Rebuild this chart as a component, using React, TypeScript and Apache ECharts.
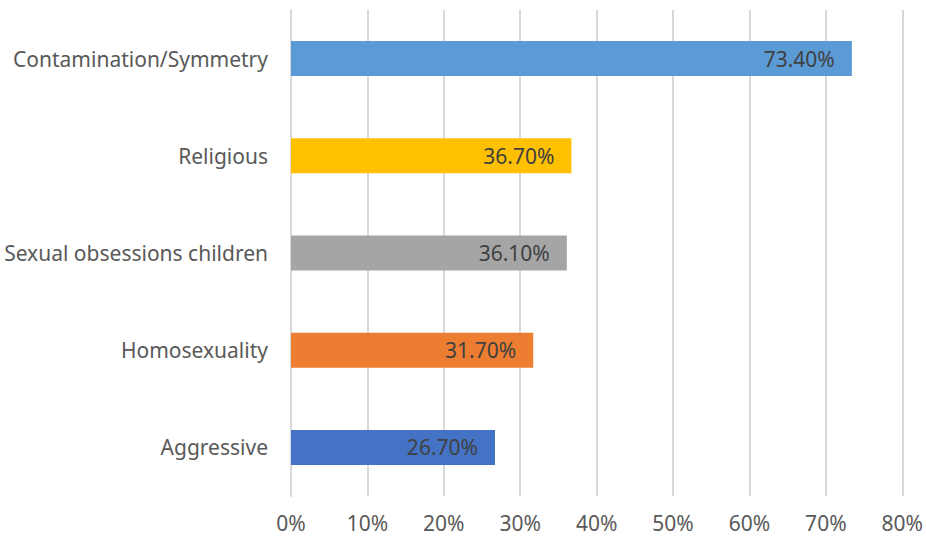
import React, { useEffect, useRef } from "react";
import * as echarts from "echarts";

const categories = ["Aggressive", "Homosexuality", "Sexual obsessions children", "Religious", "Contamination/Symmetry"];
const values = [26.7, 31.7, 36.1, 36.7, 73.4];
const colors = ["#4472C4", "#ED7D31", "#A5A5A5", "#FFC000", "#5B9BD5"];
const FONT = "'Noto Sans', sans-serif";

export default function App() {
  const ref = useRef<HTMLDivElement>(null);
  useEffect(() => {
    const chart = echarts.init(ref.current!, null, { renderer: "svg" });
    chart.setOption({
      animation: false,
      grid: { left: 291, right: 23, top: 10, bottom: 45, containLabel: false },
      xAxis: {
        type: "value",
        min: 0,
        max: 80,
        interval: 10,
        axisLine: { show: false },
        axisTick: { show: false },
        splitLine: { show: true, lineStyle: { color: "#D9D9D9", width: 2 } },
        axisLabel: { formatter: "{value}%", color: "#595959", fontSize: 21, fontFamily: FONT, margin: 16 },
      },
      yAxis: {
        type: "category",
        data: categories,
        axisLine: { show: true, lineStyle: { color: "#D9D9D9", width: 2 } },
        axisTick: { show: false },
        axisLabel: { color: "#595959", fontSize: 21, fontFamily: FONT, margin: 23 },
      },
      series: [
        {
          type: "bar",
          barWidth: 35,
          data: values.map((v, i) => ({ value: v, itemStyle: { color: colors[i] } })),
          label: {
            show: true,
            position: "insideRight",
            distance: 17,
            color: "#404040",
            fontSize: 21,
            fontFamily: FONT,
            formatter: (p: any) => p.value.toFixed(2) + "%",
          },
        },
      ],
    });
    return () => chart.dispose();
  }, []);
  return <div ref={ref} style={{ position: "absolute", left: 0, top: 0, width: 926, height: 541 }} />;
}
